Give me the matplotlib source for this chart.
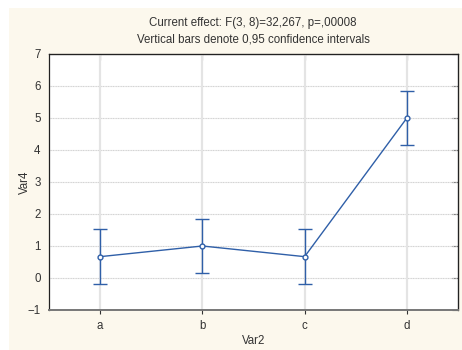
import matplotlib
matplotlib.use("Agg")
import matplotlib.pyplot as plt
from matplotlib.patches import Rectangle

# data
groups = ["a", "b", "c", "d"]
means = [0.667, 1.0, 0.667, 5.0]
ci_half = [0.857, 0.857, 0.857, 0.857]
y_ticks = [-1, 0, 1, 2, 3, 4, 5, 6, 7]
title_lines = ["Current effect: F(3, 8)=32,267, p=,00008",
               "Vertical bars denote 0,95 confidence intervals"]

plt.rcParams["font.family"] = ["Liberation Sans", "DejaVu Sans"]
plt.rcParams["font.size"] = 8.3

W, H = 462, 350
fig = plt.figure(figsize=(W / 100, H / 100), dpi=100, facecolor="white")
fig.patches.append(Rectangle((9 / W, 0), 1 - 9 / W, 1 - 8 / H, transform=fig.transFigure,
                             facecolor="#fcf8ed", edgecolor="none", zorder=-10))

ax = fig.add_axes([49 / W, 1 - 310 / H, (458 - 49) / W, (310 - 54) / H])
ax.set_facecolor("white")

x = list(range(len(groups)))
line_col = "#2f5fa8"
ax.errorbar(x, means, yerr=ci_half, color=line_col, lw=1.0, elinewidth=1.0,
            capsize=5, capthick=1.0, marker="o", ms=3.5, mfc="white", mec=line_col,
            mew=1.0, zorder=3)

ax.set_xlim(-0.5, 3.5)
ax.set_ylim(-1, 7)
ax.set_xticks(x)
ax.set_xticklabels(groups)
ax.set_yticks(y_ticks)

for yv in y_ticks:
    ax.axhline(yv, color="#d2d2d2", lw=0.8, ls=(0, (1, 0.5)), zorder=1)
for xv in x:
    ax.axvline(xv, color="#e4e4e4", lw=1.6, zorder=1)

ax.tick_params(axis="both", colors="#333333", length=3, width=0.8)
ax.tick_params(axis="y", length=0, pad=6)
ax.tick_params(axis="x", pad=4)

for side in ["left", "top", "right"]:
    ax.spines[side].set_color("#222222")
    ax.spines[side].set_linewidth(0.9)
ax.spines["bottom"].set_color("#777777")
ax.spines["bottom"].set_linewidth(1.4)

# inward ticks on top and right
sec_x = ax.secondary_xaxis("top")
sec_x.set_xticks(x)
sec_x.tick_params(direction="in", length=4, labeltop=False, color="#333333")
sec_y = ax.secondary_yaxis("right")
sec_y.set_yticks(y_ticks)
sec_y.tick_params(direction="in", length=4, labelright=False, color="#333333")

ax.set_xlabel("Var2", color="#333333", va="center")
ax.set_ylabel("Var4", color="#333333", va="center")
ax.xaxis.set_label_coords(0.5, -31 / 256)
ax.yaxis.set_label_coords(-24 / 409, 0.5)

fig.text(253 / W, 1 - 23 / H, title_lines[0], ha="center", va="center", color="#333333")
fig.text(253 / W, 1 - 39 / H, title_lines[1], ha="center", va="center", color="#333333")

fig.savefig("out.png", dpi=100, facecolor=fig.get_facecolor())
